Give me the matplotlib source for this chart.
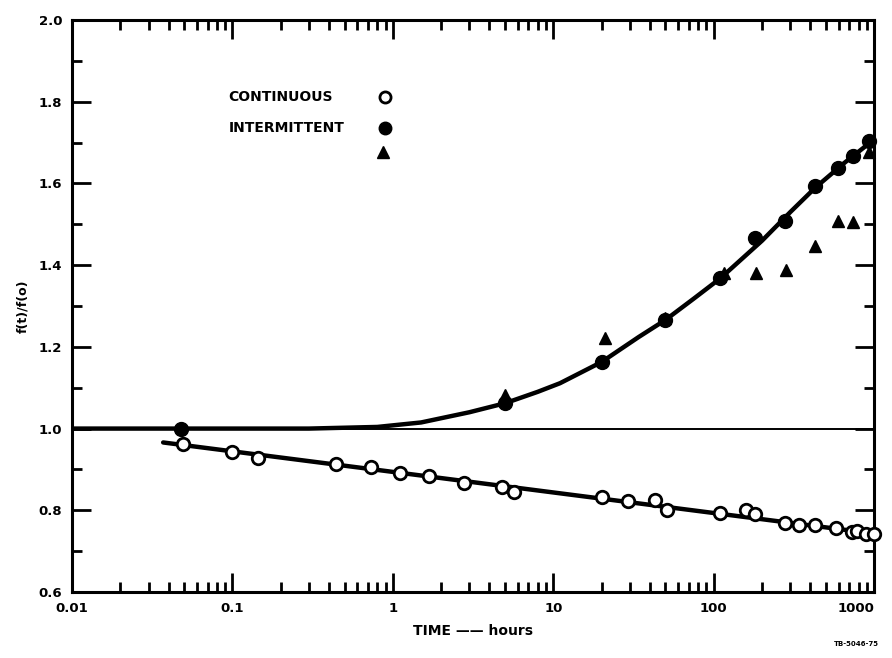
import numpy as np
import matplotlib
matplotlib.use('Agg')
import matplotlib.pyplot as plt
from matplotlib.ticker import FixedLocator, LogLocator, NullFormatter

# continuous exposure (open circles)
cont_t = [0.049, 0.1, 0.145, 0.44, 0.73, 1.1, 1.67, 2.76, 4.8, 5.7, 20, 29, 43, 51,
          110, 158, 180, 276, 342, 430, 581, 730, 780, 891, 1000]
cont_f = [0.962, 0.943, 0.928, 0.913, 0.906, 0.891, 0.884, 0.867, 0.857, 0.845, 0.832,
          0.823, 0.825, 0.800, 0.793, 0.800, 0.791, 0.769, 0.764, 0.764, 0.757, 0.747,
          0.749, 0.742, 0.742]
# fitted line for continuous
cont_fit_t = [0.037, 1000]
cont_fit_f = [0.966, 0.743]

# intermittent exposure (filled circles)
int_t = [0.048, 5, 20, 50, 110, 180, 276, 430, 597, 741, 930]
int_f = [1.0, 1.063, 1.163, 1.266, 1.368, 1.466, 1.508, 1.594, 1.638, 1.667, 1.704]
# intermittent, second set (triangles)
tri_t = [5, 21, 50, 115, 182, 280, 430, 597, 741, 930]
tri_f = [1.082, 1.221, 1.27, 1.38, 1.381, 1.388, 1.447, 1.508, 1.506, 1.677]
# curve drawn through intermittent data
curve_t = [0.01, 0.1, 0.3, 0.8, 1.5, 3, 5, 8, 11, 20, 34, 50, 75, 110, 200, 300, 430, 650, 1000]
curve_f = [1.0, 1.0, 1.0, 1.004, 1.015, 1.04, 1.062, 1.09, 1.111, 1.163, 1.224, 1.266,
           1.318, 1.368, 1.46, 1.53, 1.59, 1.65, 1.708]

plt.rcParams['font.family'] = 'DejaVu Sans'
plt.rcParams['font.weight'] = 'bold'

fig = plt.figure(figsize=(8.92, 6.58), dpi=100)
ax = fig.add_axes([0.0807, 0.1003, 0.8994, 0.8693])

ax.axhline(1.0, color='black', lw=1.4, zorder=1)
ax.plot(curve_t, curve_f, color='black', lw=3.2, solid_capstyle='round', zorder=2)
ax.plot(cont_fit_t, cont_fit_f, color='black', lw=3.2, solid_capstyle='round', zorder=2)

ax.plot(cont_t, cont_f, 'o', ms=9, mfc='white', mec='black', mew=2, zorder=3, clip_on=False)
ax.plot(int_t, int_f, 'o', ms=10, color='black', zorder=3, clip_on=False)
ax.plot(tri_t, tri_f, '^', ms=9, color='black', zorder=3, clip_on=False)

ax.set_xscale('log')
ax.set_xlim(0.01, 1000)
ax.set_ylim(0.6, 2.0)

ax.xaxis.set_major_locator(FixedLocator([0.01, 0.1, 1, 10, 100, 1000]))
ax.xaxis.set_minor_locator(LogLocator(base=10, subs=np.arange(2, 10)))
ax.xaxis.set_minor_formatter(NullFormatter())
ax.set_xticklabels(['0.01', '0.1', '1', '10', '100', '1000'])
ax.yaxis.set_major_locator(FixedLocator([0.6, 0.8, 1.0, 1.2, 1.4, 1.6, 1.8, 2.0]))
ax.yaxis.set_minor_locator(FixedLocator([0.7, 0.9, 1.1, 1.3, 1.5, 1.7, 1.9]))
ax.set_yticklabels(['0.6', '0.8', '1.0', '1.2', '1.4', '1.6', '1.8', '2.0'])

ax.tick_params(which='both', direction='in', top=True, right=True, width=2,
               labelsize=9.5, pad=7)
ax.tick_params(which='major', length=14)
ax.tick_params(which='minor', length=7)
for s in ax.spines.values():
    s.set_linewidth(2.2)
# last label sits a little left of its tick, as in the original
ax.get_xticklabels()[-1].set_horizontalalignment('right')
ax.get_xticklabels()[-1].set_x(1000)

ax.set_xlabel('TIME \u2014\u2014 hours', fontsize=10, fontweight='bold', labelpad=7)
ax.set_ylabel('f(t)/f(o)', fontsize=9, fontweight='bold', labelpad=7)

# legend block
ax.text(0.195, 0.865, 'CONTINUOUS', transform=ax.transAxes, fontsize=10,
        fontweight='bold', va='center')
ax.text(0.195, 0.811, 'INTERMITTENT', transform=ax.transAxes, fontsize=10,
        fontweight='bold', va='center')
ax.plot([0.39], [0.865], 'o', ms=8, mfc='white', mec='black', mew=2, transform=ax.transAxes)
ax.plot([0.39], [0.811], 'o', ms=9, color='black', transform=ax.transAxes)
ax.plot([0.388], [0.769], '^', ms=9, color='black', transform=ax.transAxes)

fig.text(0.985, 0.018, 'TB-5046-75', fontsize=5, fontweight='bold', ha='right')

fig.savefig('out.png', dpi=100)
